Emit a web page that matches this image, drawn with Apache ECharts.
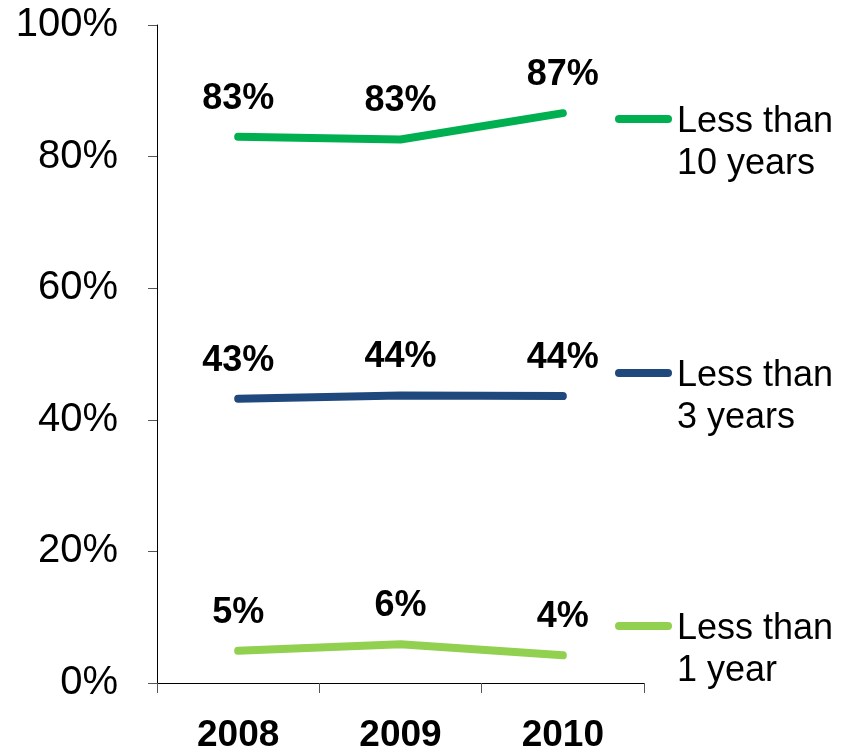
<!DOCTYPE html>
<html>
<head>
<meta charset="utf-8">
<script src="https://cdn.jsdelivr.net/npm/echarts@6/dist/echarts.min.js"></script>
<style>
html,body{margin:0;padding:0;background:#fff;}
#c{width:842px;height:752px;}
</style>
</head>
<body>
<div id="c"></div>
<script>
const years = ['2008', '2009', '2010'];
const lessThan10 = [83.0, 82.6, 86.6];
const lessThan3 = [43.2, 43.7, 43.6];
const lessThan1 = [4.9, 5.9, 4.2];
const seriesNames = ['Less than\n10 years', 'Less than\n3 years', 'Less than\n1 year'];
const colors = ['#00B050', '#1F497D', '#92D050'];
const yTicks = [0, 20, 40, 60, 80, 100];

const FONT = '"Liberation Sans", Arial, Helvetica, sans-serif';
const chart = echarts.init(document.getElementById('c'), null, {renderer: 'canvas'});

const iconPath = 'path://M4,0 H53 A4,4 0 0 1 53,8 H4 A4,4 0 0 1 4,0 Z';
function mkLegend(name, top) {
  return {
    data: [name],
    left: 615,
    top: top,
    padding: 0,
    orient: 'vertical',
    itemWidth: 57,
    itemHeight: 8,
    icon: iconPath,
    selectedMode: false,
    formatter: n => '{p| }\n' + n.split('\n').map(s => '{t|' + s + '}').join('\n'),
    textStyle: {
      fontFamily: FONT, fontSize: 36, color: '#000',
      rich: {
        p: {fontFamily: FONT, fontSize: 36, lineHeight: 48},
        t: {fontFamily: FONT, fontSize: 36, lineHeight: 42, color: '#000'}
      }
    }
  };
}

function mkSeries(name, data, color) {
  return {
    name: name,
    type: 'line',
    data: data,
    symbol: 'circle',
    symbolSize: 0.1,
    showSymbol: true,
    lineStyle: {width: 8, color: color, cap: 'round', join: 'round'},
    itemStyle: {color: color},
    label: {
      show: true,
      position: 'top',
      distance: 20,
      fontFamily: FONT,
      fontSize: 36,
      fontWeight: 'bold',
      color: '#000',
      formatter: p => Math.round(p.value) + '%'
    },
    emphasis: {disabled: true},
    animation: false
  };
}

chart.setOption({
  animation: false,
  color: colors,
  grid: {left: 157, right: 198, top: 25, bottom: 69, containLabel: false, outerBoundsMode: 'none'},
  legend: [
    mkLegend(seriesNames[0], 59),
    mkLegend(seriesNames[1], 313),
    mkLegend(seriesNames[2], 566)
  ],
  xAxis: {
    type: 'category',
    data: years,
    boundaryGap: true,
    axisLine: {show: true, lineStyle: {color: '#000', width: 1}},
    axisTick: {show: true, length: 10, lineStyle: {color: '#555'}},
    axisLabel: {fontFamily: FONT, fontSize: 37, fontWeight: 'bold', color: '#000', margin: 34}
  },
  yAxis: {
    type: 'value',
    min: yTicks[0],
    max: yTicks[yTicks.length - 1],
    interval: 20,
    axisLine: {show: true, lineStyle: {color: '#000', width: 1}},
    axisTick: {show: true, length: 9, lineStyle: {color: '#555'}},
    splitLine: {show: false},
    axisLabel: {fontFamily: FONT, fontSize: 40, color: '#000', margin: 39, formatter: '{value}%'}
  },
  series: [
    mkSeries(seriesNames[0], lessThan10, colors[0]),
    mkSeries(seriesNames[1], lessThan3, colors[1]),
    mkSeries(seriesNames[2], lessThan1, colors[2])
  ]
});
</script>
</body>
</html>
